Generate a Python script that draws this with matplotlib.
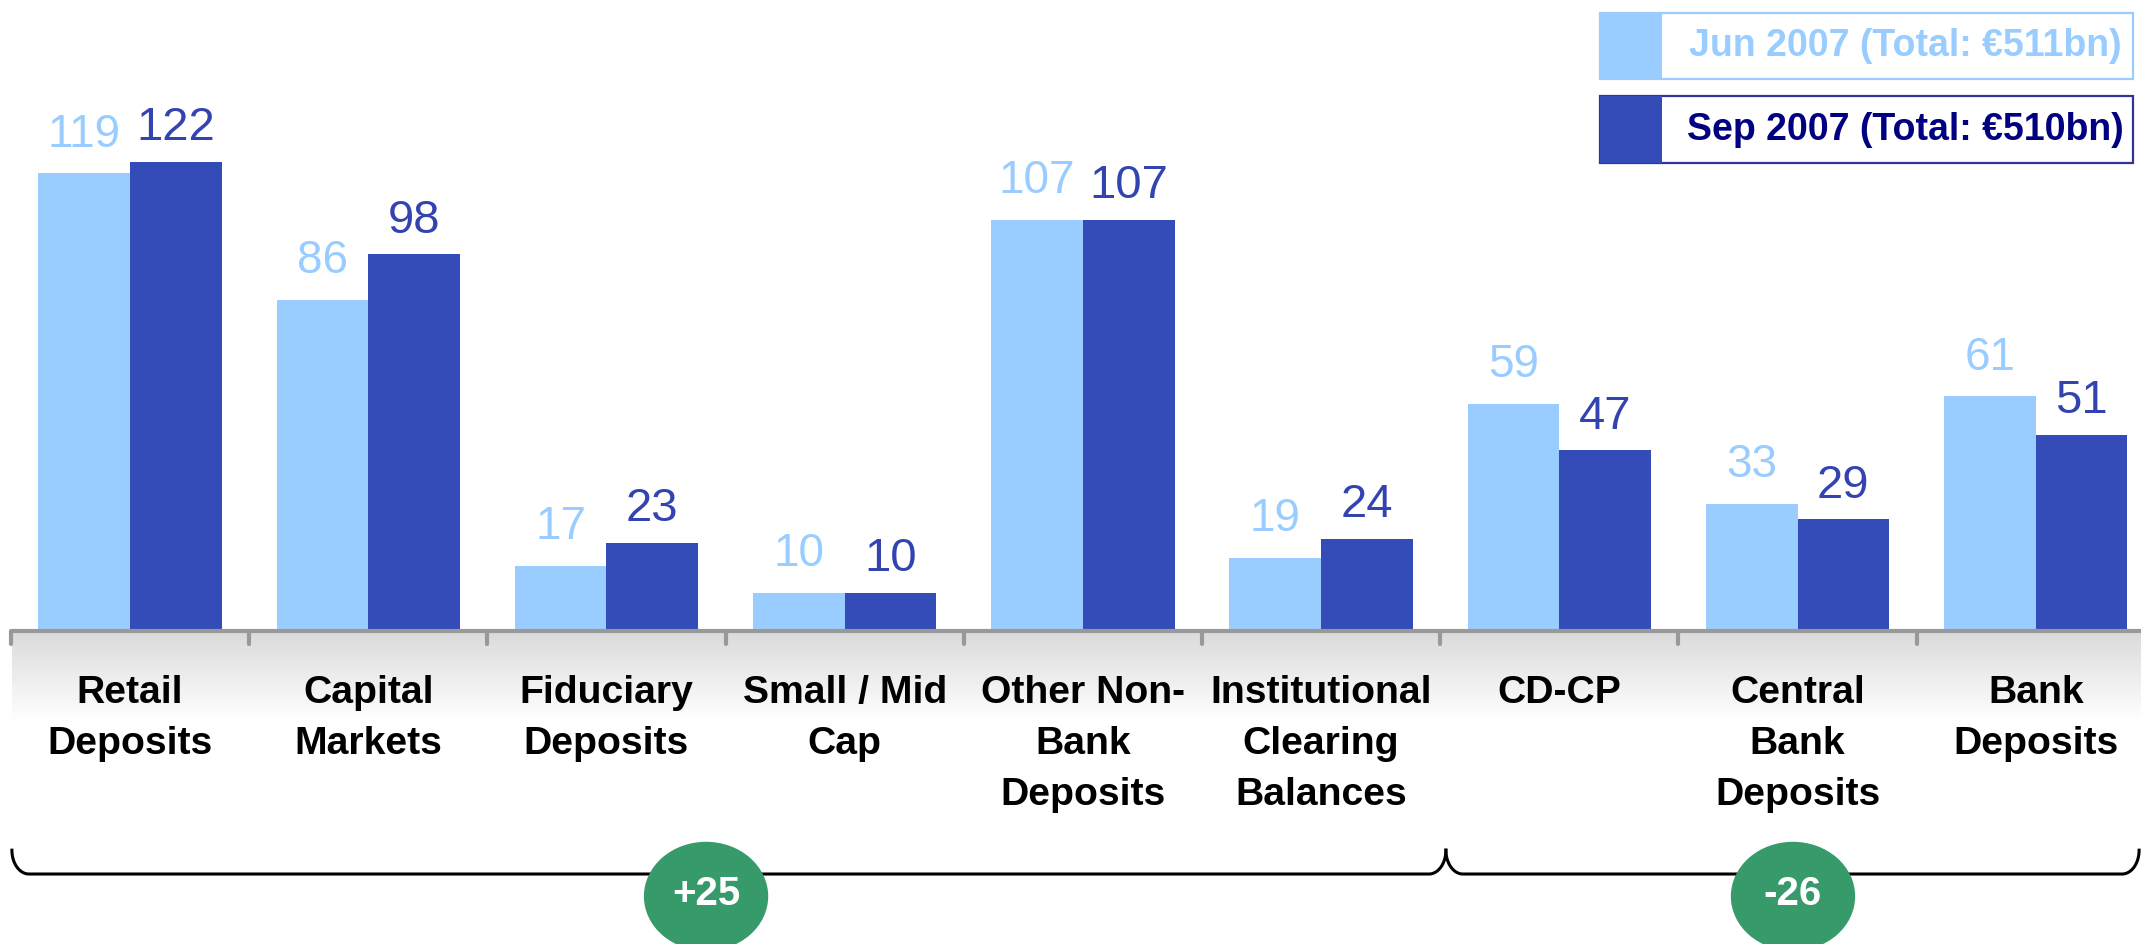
import numpy as np
import matplotlib.pyplot as plt
from matplotlib.patches import Rectangle, Ellipse
from matplotlib.colors import LinearSegmentedColormap

plt.rcParams['font.family'] = ['Liberation Sans', 'DejaVu Sans']

categories = ['Retail\nDeposits', 'Capital\nMarkets', 'Fiduciary\nDeposits', 'Small / Mid\nCap',
              'Other Non-\nBank\nDeposits', 'Institutional\nClearing\nBalances', 'CD-CP',
              'Central\nBank\nDeposits', 'Bank\nDeposits']
jun_2007 = [119, 86, 17, 10, 107, 19, 59, 33, 61]
sep_2007 = [122, 98, 23, 10, 107, 24, 47, 29, 51]
legend_labels = ['Jun 2007 (Total: \u20ac511bn)', 'Sep 2007 (Total: \u20ac510bn)']
groups = [(-0.496, 5.524, '+25'), (5.524, 8.434, '-26')]
group_centers = [2.418, 6.981]

light = '#99ccff'
dark = '#334cb8'
green = '#379a6a'

fig = plt.figure(figsize=(21.41, 9.44), dpi=100)
ax = fig.add_axes([0, 0, 1, 1])
ax.set_xlim(-0.546, 8.442)
ax.set_ylim(-81.4, 164.1)
ax.axis('off')

x = np.arange(len(categories))
w = 0.385
ax.bar(x - w / 2, jun_2007, width=w, color=light, zorder=2)
ax.bar(x + w / 2, sep_2007, width=w, color=dark, zorder=2)

for i in x:
    ax.text(i - w / 2, jun_2007[i] + 7.0, str(jun_2007[i]), ha='center', va='baseline',
            fontsize=33, color=light)
    ax.text(i + w / 2, sep_2007[i] + 5.6, str(sep_2007[i]), ha='center', va='baseline',
            fontsize=34, color='#3344b0')

# grey gradient under the axis
grad = np.linspace(0, 1, 100).reshape(-1, 1)
cmap = LinearSegmentedColormap.from_list('g', ['#dadada', '#ffffff'])
ax.imshow(grad, cmap=cmap, aspect='auto', extent=(-0.496, 8.442, -23.5, 0),
          origin='upper', zorder=0)

ax.plot([-0.496, 8.442], [0, 0], color='#999999', lw=3, solid_capstyle='round', zorder=3)
for k in range(len(categories) + 1):
    ax.plot([k - 0.5, k - 0.5], [0, -3.4], color='#999999', lw=3,
            solid_capstyle='round', zorder=3)

for i, lab in enumerate(categories):
    ax.text(i, -11.4, lab, ha='center', va='top', fontsize=28.2, fontweight='bold',
            linespacing=1.53, color='black')

# braces
y_line, y_tip = -63.2, -57.0
rx, ry = 0.0714, 6.2
t = np.linspace(0, np.pi / 2, 30)
for x0, x1, lab in groups:
    xs = np.concatenate([x0 + rx - rx * np.cos(t), [x0 + rx, x1 - rx], x1 - rx + rx * np.sin(t)])
    ys = np.concatenate([y_line + ry - ry * np.sin(t), [y_line, y_line], y_line + ry - ry * np.cos(t)])
    ax.plot(xs, ys, color='black', lw=2.2, zorder=3)

for cx, (_, _, lab) in zip(group_centers, groups):
    ax.add_patch(Ellipse((cx, -69.0), 0.516, 28.0, color=green, zorder=4))
    ax.text(cx, -68.4, lab, ha='center', va='center', fontsize=29, fontweight='bold',
            color='white', zorder=5)

# legend boxes
W, H = 2141, 944
boxes = [(13, 79, light, light, light), (96, 163, dark, '#333399', '#000080')]
for (top, bot, sw, edge, tcol), lab in zip(boxes, legend_labels):
    y0 = 1 - bot / H
    h = (bot - top) / H
    fig.patches.append(Rectangle((1600 / W, y0), 533 / W, h, transform=fig.transFigure,
                                 facecolor='white', edgecolor=edge, lw=1.6))
    fig.patches.append(Rectangle((1600 / W, y0), 62 / W, h, transform=fig.transFigure,
                                 facecolor=sw, edgecolor='none'))
    fig.text(1905 / W, y0 + h / 2, lab, ha='center', va='center', fontsize=27,
             fontweight='bold', color=tcol)

fig.savefig('out.png', dpi=100)
